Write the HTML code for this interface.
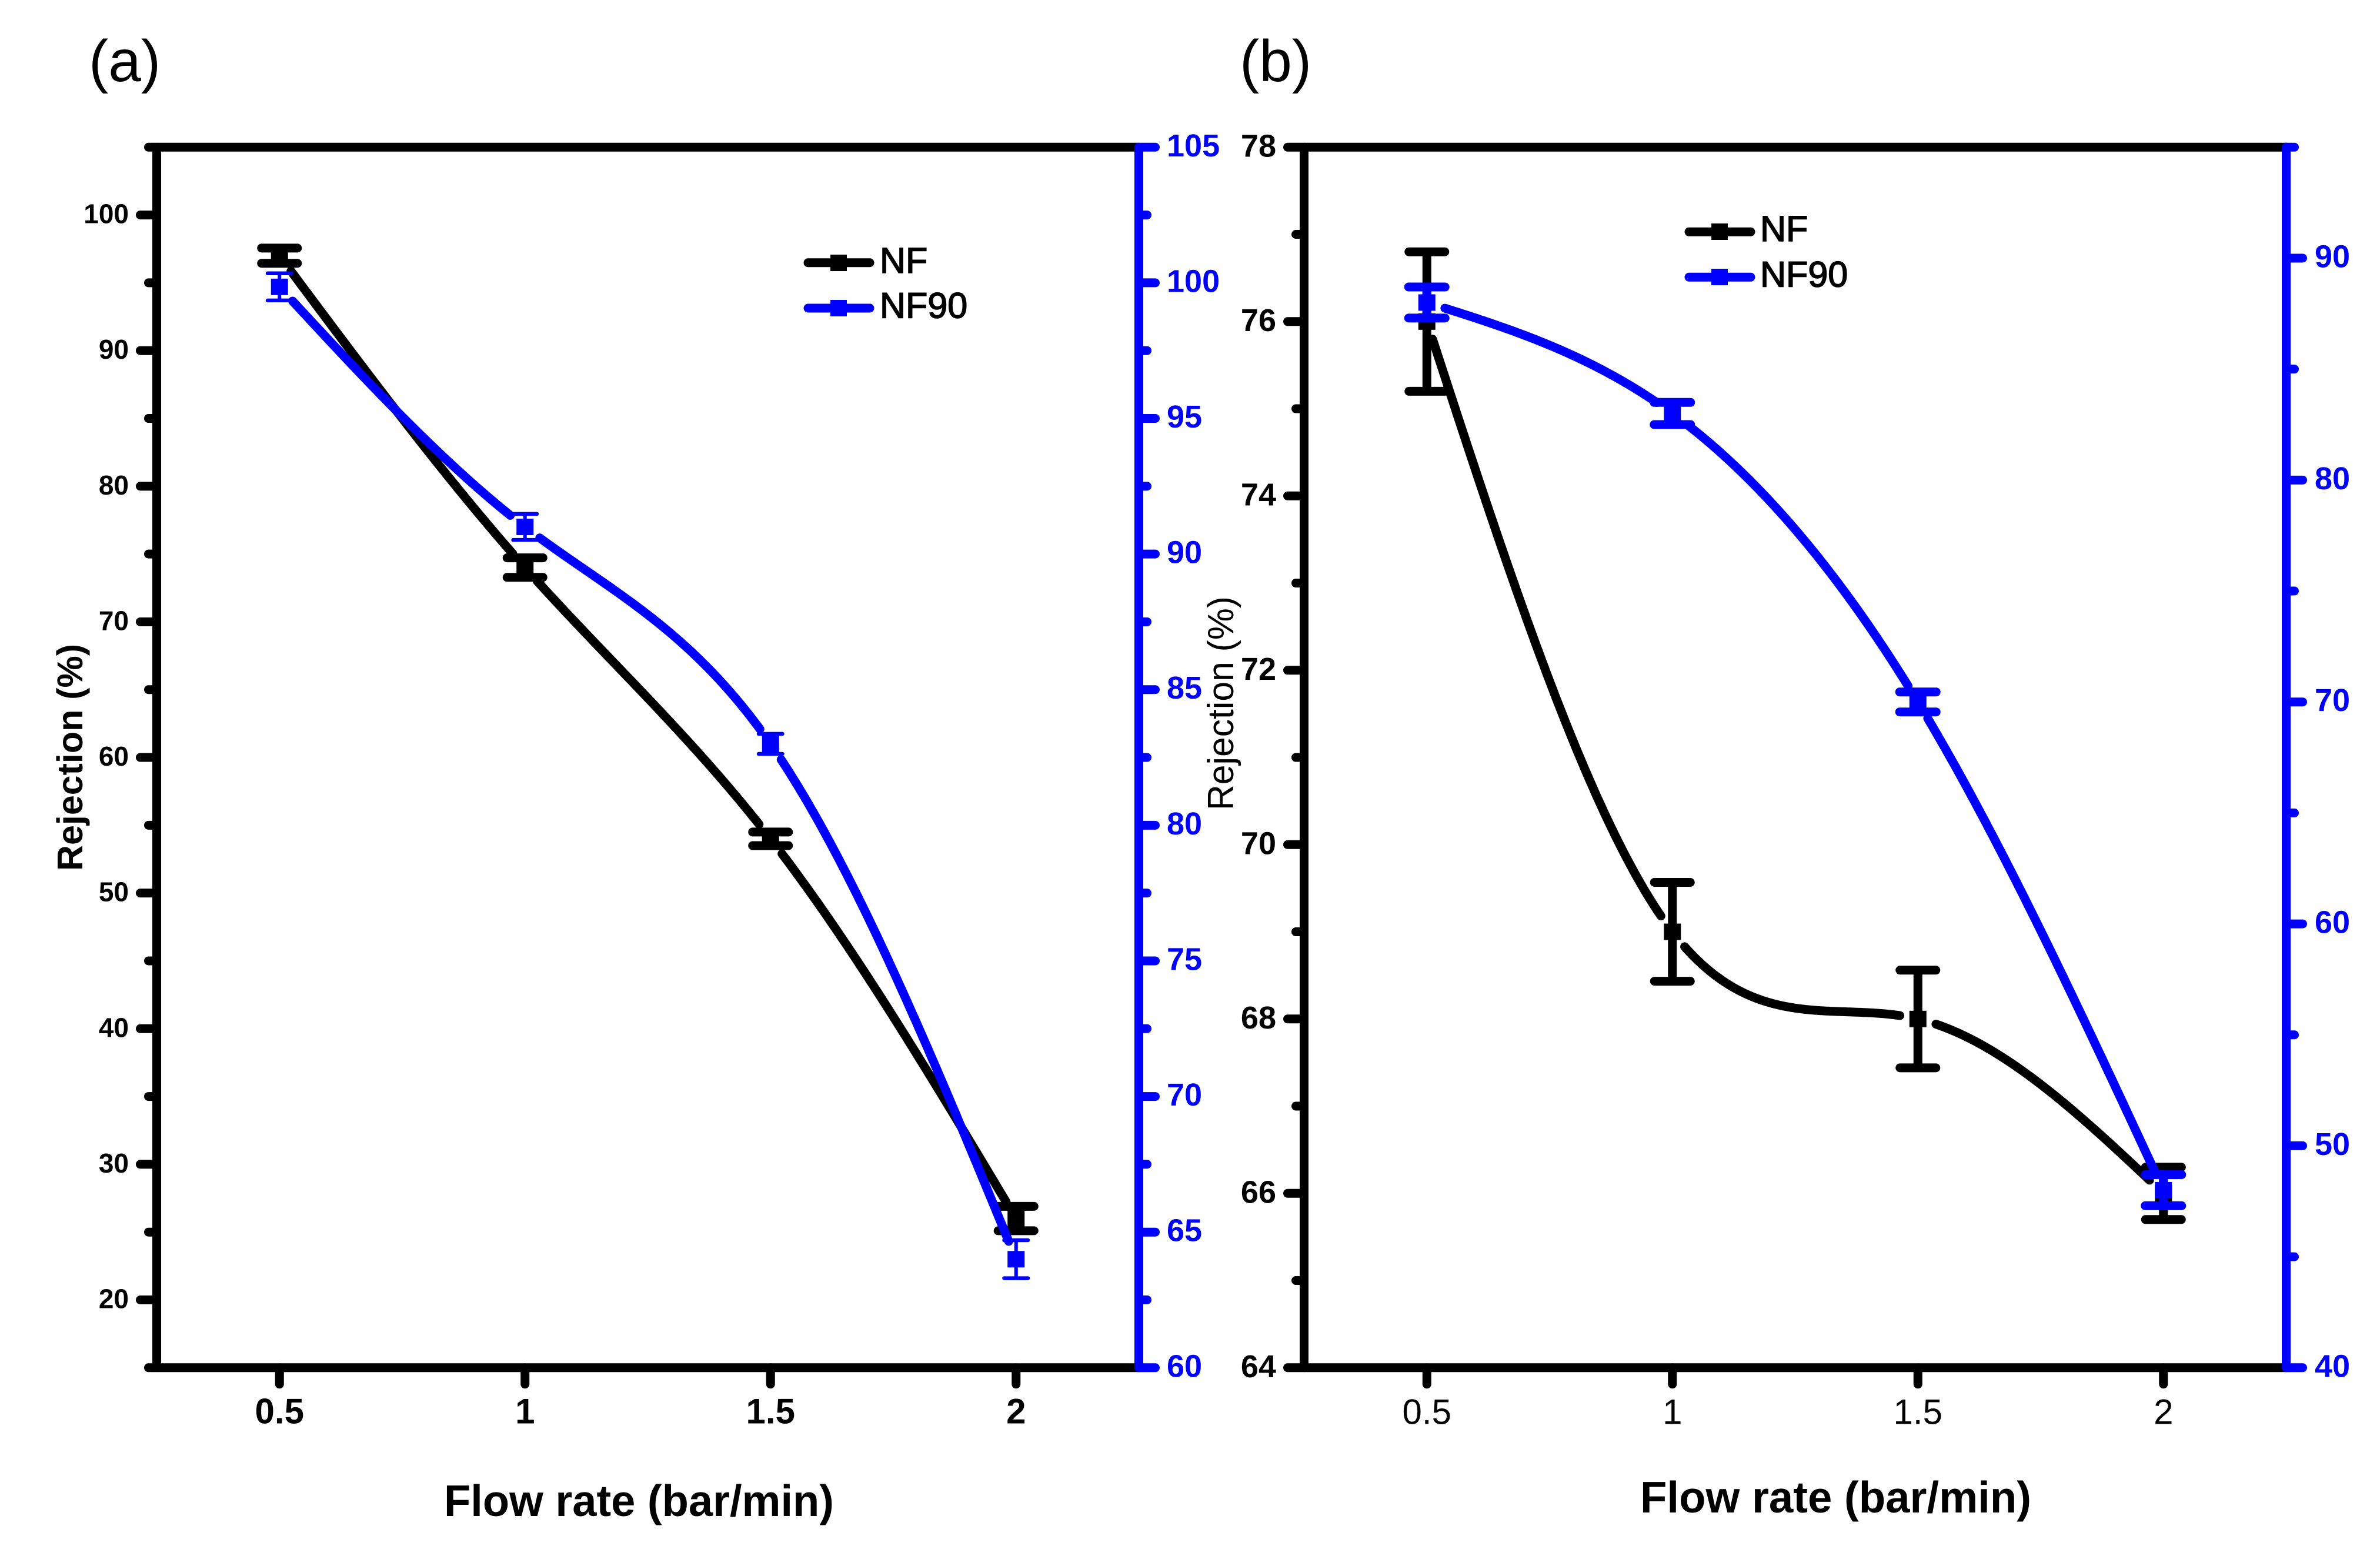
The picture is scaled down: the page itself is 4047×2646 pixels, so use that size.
<!DOCTYPE html>
<html lang="en">
<head>
<meta charset="utf-8">
<title>Rejection vs flow rate</title>
<style>
html,body{margin:0;padding:0;background:#fff;}
svg{display:block;}
text{font-family:"Liberation Sans",Arial,sans-serif;}
</style>
</head>
<body>
<svg id="chart" xmlns="http://www.w3.org/2000/svg" width="4047" height="2646" viewBox="0 0 4047 2646">
  <rect x="0" y="0" width="4047" height="2646" fill="#fff"/>

  <text x="151" y="138" font-size="100" fill="#000">(a)</text>
  <text x="2108" y="138" font-size="100" fill="#000">(b)</text>

  <text x="755" y="2578" font-size="75" font-weight="700" textLength="663" lengthAdjust="spacingAndGlyphs" fill="#000">Flow rate (bar/min)</text>
  <text x="2789" y="2572" font-size="75" font-weight="700" textLength="665" lengthAdjust="spacingAndGlyphs" fill="#000">Flow rate (bar/min)</text>

  <text transform="translate(140,1481) rotate(-90)" font-size="61" font-weight="700" textLength="386" lengthAdjust="spacingAndGlyphs" fill="#000">Rejection (%)</text>
  <text transform="translate(2097,1378) rotate(-90)" font-size="62" textLength="364" lengthAdjust="spacingAndGlyphs" fill="#000">Rejection (%)</text>

  <g>
    <line x1="1374" y1="446.7" x2="1479" y2="446.7" stroke="#000" stroke-width="15" stroke-linecap="round"/>
    <rect x="1412" y="433" width="28" height="28" fill="#000"/>
    <text x="1496" y="464" font-size="61" fill="#000" stroke="#000" stroke-width="1.6">NF</text>
    <line x1="1374" y1="524" x2="1479" y2="524" stroke="#00f" stroke-width="15" stroke-linecap="round"/>
    <rect x="1412" y="510" width="28" height="28" fill="#00f"/>
    <text x="1496" y="540.7" font-size="61" fill="#000" stroke="#000" stroke-width="1.6">NF90</text>
  </g>
  <g>
    <line x1="2872" y1="394.3" x2="2977" y2="394.3" stroke="#000" stroke-width="15" stroke-linecap="round"/>
    <rect x="2910" y="380" width="28" height="28" fill="#000"/>
    <text x="2993" y="410" font-size="61" fill="#000" stroke="#000" stroke-width="1.6">NF</text>
    <line x1="2872" y1="471.3" x2="2977" y2="471.3" stroke="#00f" stroke-width="15" stroke-linecap="round"/>
    <rect x="2910" y="457" width="28" height="28" fill="#00f"/>
    <text x="2993" y="487.7" font-size="61" fill="#000" stroke="#000" stroke-width="1.6">NF90</text>
  </g>
</svg>
<script>
// ---- data ----
const categories = [0.5, 1, 1.5, 2];

const nfA = [97, 74, 54, 26];
const nfErrA = [0.56, 0.72, 0.5, 0.9];
const nf90A = [99.85, 91, 83, 64];
const nf90ErrA = [0.5, 0.48, 0.37, 0.7];

const nfB = [76, 69, 68, 66];
const nfErrB = [0.8, 0.567, 0.56, 0.3];
const nf90B = [88, 83, 70, 48];
const nf90ErrB = [0.7, 0.5, 0.45, 0.7];

const xTicks = ["0.5", "1", "1.5", "2"];

const leftMajorA = [20, 30, 40, 50, 60, 70, 80, 90, 100];
const leftMinorA = [15, 25, 35, 45, 55, 65, 75, 85, 95, 105];
const rightMajorA = [60, 65, 70, 75, 80, 85, 90, 95, 100, 105];
const rightMinorA = [62.5, 67.5, 72.5, 77.5, 82.5, 87.5, 92.5, 97.5, 102.5];

const leftMajorB = [64, 66, 68, 70, 72, 74, 76, 78];
const leftMinorB = [65, 67, 69, 71, 73, 75, 77];
const rightMajorB = [40, 50, 60, 70, 80, 90];
const rightMinorB = [45, 55, 65, 75, 85, 95];

// ---- rendering ----
const svg = document.getElementById('chart');
const NS = 'http://www.w3.org/2000/svg';
const BLACK = '#000';
const BLUE = '#00f';
const AXIS_W = 15;

function make(tag, attrs, parent) {
  const el = document.createElementNS(NS, tag);
  for (const k in attrs) el.setAttribute(k, attrs[k]);
  parent.appendChild(el);
  return el;
}

function seg(x1, y1, x2, y2, color, w, cap, parent) {
  return make('line', {x1, y1, x2, y2, stroke: color, 'stroke-width': w, 'stroke-linecap': cap}, parent);
}

// natural cubic spline through the points
function splineSecondDerivs(xs, ys) {
  const n = xs.length;
  const m = new Array(n).fill(0), u = new Array(n).fill(0);
  for (let i = 1; i < n - 1; i++) {
    const sig = (xs[i] - xs[i-1]) / (xs[i+1] - xs[i-1]);
    const p = sig * m[i-1] + 2;
    m[i] = (sig - 1) / p;
    const d = (ys[i+1] - ys[i]) / (xs[i+1] - xs[i]) - (ys[i] - ys[i-1]) / (xs[i] - xs[i-1]);
    u[i] = (6 * d / (xs[i+1] - xs[i-1]) - sig * u[i-1]) / p;
  }
  for (let k = n - 2; k >= 0; k--) m[k] = m[k] * m[k+1] + u[k];
  return m;
}

function drawPanel(cfg) {
  const g = make('g', {}, svg);
  
  

  const sx = v => cfg.x0 + (v - cfg.xMin) / (cfg.xMax - cfg.xMin) * (cfg.x1 - cfg.x0);
  const syL = v => cfg.yB - (v - cfg.lMin) / (cfg.lMax - cfg.lMin) * (cfg.yB - cfg.yT);
  const syR = v => cfg.yB - (v - cfg.rMin) / (cfg.rMax - cfg.rMin) * (cfg.yB - cfg.yT);

  // black frame
  const leftAxis = seg(cfg.x0, cfg.yT, cfg.x0, cfg.yB, BLACK, AXIS_W, 'butt', g);
  
  
  const topAxis = seg(cfg.x0, cfg.yT, cfg.x1, cfg.yT, BLACK, AXIS_W, 'butt', g);
  
  
  const bottomAxis = seg(cfg.x0, cfg.yB, cfg.x1, cfg.yB, BLACK, AXIS_W, 'butt', g);
  
  

  // x ticks
  categories.forEach((c, i) => {
    const t = seg(sx(c), cfg.yB, sx(c), cfg.yB + 28, BLACK, AXIS_W, 'round', g);
    
    
    const lab = make('text', {x: sx(c), y: cfg.xLabelY, 'text-anchor': 'middle', 'font-size': 60, 'font-weight': cfg.xLabelWeight, fill: BLACK}, g);
    lab.textContent = xTicks[i];
    
    
  });

  // left ticks
  cfg.leftMajor.forEach(v => {
    const t = seg(cfg.x0, syL(v), cfg.x0 - 28, syL(v), BLACK, AXIS_W, 'round', g);
    
    
    const lab = make('text', {x: cfg.leftLabelX, y: syL(v) + cfg.leftLabelDy, 'text-anchor': 'end', 'font-size': cfg.leftLabelSize, 'font-weight': 700, fill: BLACK}, g);
    lab.textContent = String(v);
    
    
  });
  cfg.leftMinor.forEach(v => {
    const t = seg(cfg.x0, syL(v), cfg.x0 - 14, syL(v), BLACK, AXIS_W, 'round', g);
    
    
  });

  // blue right axis
  const rightAxis = seg(cfg.x1, cfg.yT, cfg.x1, cfg.yB, BLUE, AXIS_W, 'round', g);
  
  
  cfg.rightMajor.forEach(v => {
    const t = seg(cfg.x1, syR(v), cfg.x1 + 28, syR(v), BLUE, AXIS_W, 'round', g);
    
    
    const lab = make('text', {x: cfg.x1 + cfg.rightLabelDx, y: syR(v) + 15.5, 'font-size': 54, 'font-weight': 700, fill: BLUE}, g);
    lab.textContent = String(v);
    
    
  });
  cfg.rightMinor.forEach(v => {
    const t = seg(cfg.x1, syR(v), cfg.x1 + 14, syR(v), BLUE, AXIS_W, 'round', g);
    
    
  });

  drawSeries(g, 'nf', categories, cfg.nf, cfg.nfErr, sx, syL, BLACK, 15, 76, 15);
  drawSeries(g, 'nf90', categories, cfg.nf90, cfg.nf90Err, sx, syR, BLUE, cfg.blueCapW, cfg.blueCapLen, cfg.blueBarW);
}

function drawSeries(g, key, xs, ys, errs, sx, sy, color, capW, capLen, barW) {
  const group = make('g', {}, g);
  
  

  const GAP = 31;
  const px = xs.map(sx), py = ys.map(sy);
  const m = splineSecondDerivs(px, py);
  for (let i = 0; i < px.length - 1; i++) {
    const h = px[i+1] - px[i];
    let d = '';
    const steps = 300;
    for (let s = 0; s <= steps; s++) {
      const x = px[i] + h * s / steps;
      const a = (px[i+1] - x) / h, b = (x - px[i]) / h;
      const y = a * py[i] + b * py[i+1] + ((a*a*a - a) * m[i] + (b*b*b - b) * m[i+1]) * h * h / 6;
      if (Math.hypot(x - px[i], y - py[i]) < GAP || Math.hypot(x - px[i+1], y - py[i+1]) < GAP) continue;
      d += (d ? 'L' : 'M') + x.toFixed(1) + ' ' + y.toFixed(1);
    }
    const path = make('path', {d, fill: 'none', stroke: color, 'stroke-width': 15, 'stroke-linecap': 'round', 'stroke-linejoin': 'round'}, group);
    
    
  }

  xs.forEach((c, i) => {
    const x = sx(c);
    const yU = sy(ys[i] + errs[i]), yD = sy(ys[i] - errs[i]);
    const bar = seg(x, yU, x, yD, color, barW, 'butt', group);
    
    
    const half = (capLen - capW) / 2;
    const capTop = seg(x - half, yU, x + half, yU, color, capW, 'round', group);
    
    
    const capBot = seg(x - half, yD, x + half, yD, color, capW, 'round', group);
    
    
    const mark = make('rect', {x: x - 14.5, y: sy(ys[i]) - 14, width: 29, height: 28, fill: color}, group);
    
    
  });
}

drawPanel({
  name: 'panel-a', xMin: 0.25, xMax: 2.25, x0: 266.5, x1: 1936.5, yT: 250.3, yB: 2325.8,
  lMin: 15, lMax: 105, rMin: 60, rMax: 105,
  leftMajor: leftMajorA, leftMinor: leftMinorA, rightMajor: rightMajorA, rightMinor: rightMinorA,
  nf: nfA, nfErr: nfErrA, nf90: nf90A, nf90Err: nf90ErrA,
  xLabelY: 2420.7, xLabelWeight: 700,
  leftLabelX: 219, leftLabelDy: 14, leftLabelSize: 46, rightLabelDx: 47.5,
  blueCapW: 6.5, blueCapLen: 47, blueBarW: 6
});
drawPanel({
  name: 'panel-b', xMin: 0.25, xMax: 2.25, x0: 2217.5, x1: 3887.5, yT: 250.3, yB: 2325.8,
  lMin: 64, lMax: 78, rMin: 40, rMax: 95,
  leftMajor: leftMajorB, leftMinor: leftMinorB, rightMajor: rightMajorB, rightMinor: rightMinorB,
  nf: nfB, nfErr: nfErrB, nf90: nf90B, nf90Err: nf90ErrB,
  xLabelY: 2421.7, xLabelWeight: 400,
  leftLabelX: 2170, leftLabelDy: 16, leftLabelSize: 54, rightLabelDx: 48.5,
  blueCapW: 15, blueCapLen: 77, blueBarW: 15
});
</script>
</body>
</html>
